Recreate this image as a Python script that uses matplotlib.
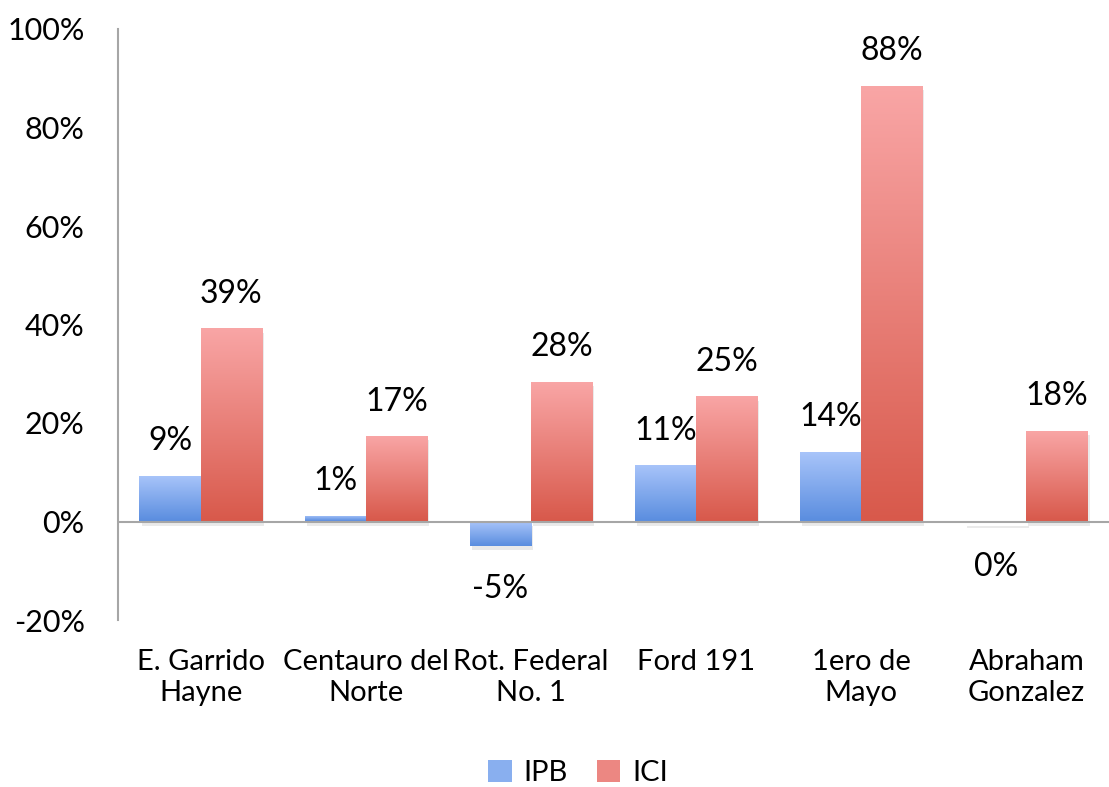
import matplotlib
matplotlib.use("Agg")
import matplotlib.pyplot as plt
import numpy as np
from matplotlib.colors import LinearSegmentedColormap
from matplotlib.patches import Patch
import matplotlib.patheffects as pe

categories = ["E. Garrido\nHayne", "Centauro del\nNorte", "Rot. Federal\nNo. 1",
              "Ford 191", "1ero de\nMayo", "Abraham\nGonzalez"]
ipb = [9.2, 1.2, -5.0, 11.4, 14.2, -0.4]
ici = [39.2, 17.3, 28.4, 25.4, 88.49, 18.4]
series_names = ["IPB", "ICI"]
yticks = [-20, 0, 20, 40, 60, 80, 100]

plt.rcParams['font.family'] = ['Lato', 'DejaVu Sans']

W, H = 1109, 787
fig = plt.figure(figsize=(W / 100, H / 100), dpi=100)
ax = fig.add_axes([118 / W, (H - 620) / H, (W - 118) / W, 591 / H])

x = np.arange(len(categories))
bw = 0.37
blue_cmap = LinearSegmentedColormap.from_list("b", ["#5a8ddf", "#a9c5fa"])
red_cmap = LinearSegmentedColormap.from_list("r", ["#d8594b", "#f9a6a6"])
grad = np.linspace(0, 1, 256).reshape(-1, 1)

def draw(xs, vals, cmap):
    bars = ax.bar(xs, vals, bw, color=cmap(0.5), zorder=2,
                  path_effects=[pe.SimplePatchShadow(offset=(1.5, -3), shadow_rgbFace='#999999', alpha=0.2),
                                pe.Normal()])
    for b, v in zip(bars, vals):
        x0 = b.get_x()
        y0, y1 = min(0, v), max(0, v)
        im = ax.imshow(grad, cmap=cmap, origin='lower', aspect='auto',
                       extent=[x0, x0 + bw, y0, y1], zorder=3, interpolation='bilinear')
        im.set_clip_path(b)
        lbl = f"{round(v):.0f}%"
        off = 25 if v >= 0 else -31
        ax.annotate(lbl, (x0 + bw / 2, v), xytext=(0, off), textcoords='offset points',
                    ha='center', va='center', fontsize=23, zorder=5)
    return bars

draw(x - bw / 2, ipb, blue_cmap)
draw(x + bw / 2, ici, red_cmap)

ax.set_xlim(-0.5, len(categories) - 0.5)
ax.set_ylim(-20, 100)
ax.set_yticks(yticks)
ax.set_yticklabels([f"{t}%" for t in yticks], fontsize=22)
ax.set_xticks(x)
ax.set_xticklabels(categories, fontsize=21, linespacing=1.25)
ax.tick_params(axis='both', length=0)
ax.tick_params(axis='y', pad=24)
ax.tick_params(axis='x', pad=21)
for s in ['top', 'right', 'bottom']:
    ax.spines[s].set_visible(False)
ax.spines['left'].set_color('#a6a6a6')
ax.spines['left'].set_linewidth(1.5)
ax.axhline(0, color='#a6a6a6', lw=1.5, zorder=4)

handles = [Patch(facecolor=blue_cmap(0.6), label=series_names[0]),
           Patch(facecolor=red_cmap(0.6), label=series_names[1])]
fig.legend(handles=handles, loc='center', bbox_to_anchor=(578 / W, 1 - 773 / H), ncol=2,
           frameon=False, fontsize=21, handlelength=0.8, handleheight=0.8,
           handletextpad=0.4, columnspacing=1.0)

fig.savefig("out.png", dpi=100)
